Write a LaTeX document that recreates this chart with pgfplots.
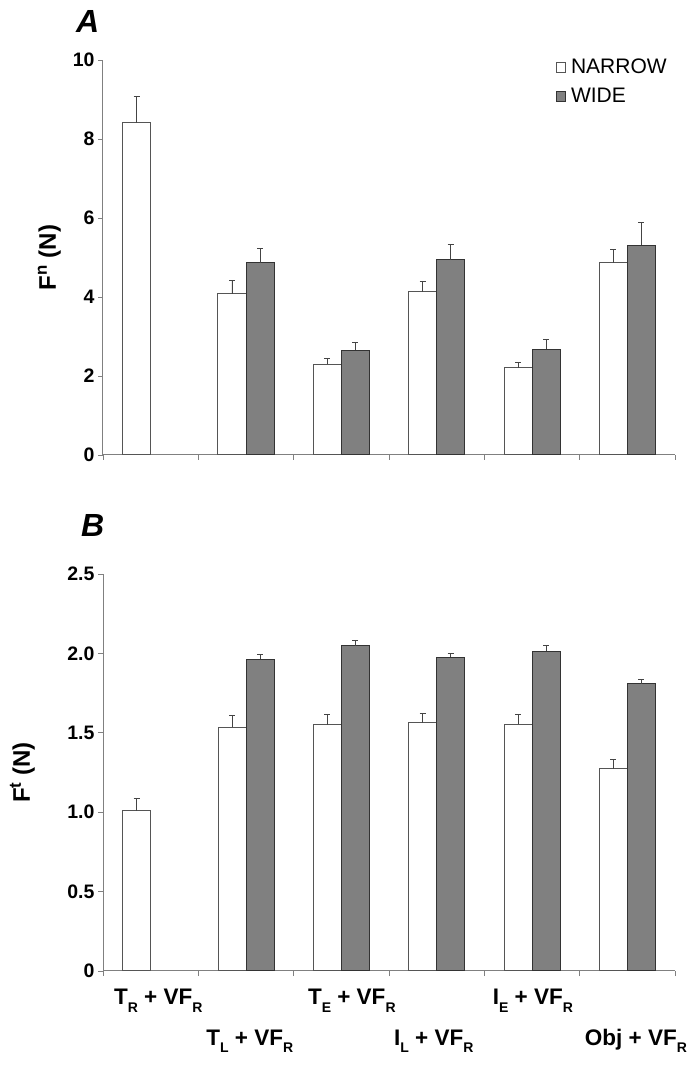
\documentclass[border=0pt]{standalone}
\usepackage{pgfplots}
\pgfplotsset{compat=1.18}
\usepackage{pgfplotstable}
\usepackage{fontspec}
\setmainfont{Liberation Sans}

\definecolor{axgray}{HTML}{808080}
\definecolor{widefill}{HTML}{808080}
\definecolor{edgedark}{HTML}{333333}
\definecolor{edgenarrow}{HTML}{555555}
\definecolor{errgray}{HTML}{444444}

% Panel A (F^n)
\pgfplotstableread{
x y e
1 8.41 0.66
2 4.08 0.33
3 2.30 0.15
4 4.13 0.26
5 2.21 0.14
6 4.87 0.34
}\narrowA
\pgfplotstableread{
x y e
2 4.87 0.36
3 2.65 0.19
4 4.94 0.38
5 2.68 0.25
6 5.31 0.58
}\wideA
% Panel B (F^t)
\pgfplotstableread{
x y e
1 1.010 0.076
2 1.535 0.072
3 1.552 0.063
4 1.563 0.056
5 1.554 0.061
6 1.275 0.059
}\narrowB
\pgfplotstableread{
x y e
2 1.964 0.032
3 2.048 0.033
4 1.977 0.025
5 2.012 0.036
6 1.808 0.027
}\wideB

\newcommand\sub[1]{\raisebox{-0.32em}{\fontsize{14}{14}\selectfont #1}}

\pgfplotsset{
  base/.style={
    scale only axis, width=572pt,
    xmin=0.5, xmax=6.5, ymin=0,
    axis x line*=bottom, axis y line*=left,
    axis line style={axgray, line width=1pt, -},
    xtick={0.5,1.5,2.5,3.5,4.5,5.5,6.5}, xticklabels={},
    tick align=outside, major tick length=5pt,
    tick style={axgray, line width=0.8pt},
    /pgf/number format/assume math mode=true,
    yticklabel style={font=\fontsize{19.5}{19.5}\selectfont\bfseries},
    ylabel style={font=\fontsize{24}{24}\selectfont\bfseries, anchor=center},
    ybar=0pt, bar width=28pt,
    clip=false,
  },
  narrowbar/.style={fill=white, draw=edgenarrow, line width=1pt,
    legend image code/.code={\draw[fill=white, draw=edgenarrow, line width=0.8pt] (0pt,-5pt) rectangle (9pt,5pt);},
    error bars/.cd, y dir=plus, y explicit,
    error bar style={errgray, line width=0.9pt},
    error mark options={errgray, rotate=90, mark size=3pt, line width=0.9pt}},
  widebar/.style={fill=widefill, draw=edgedark, line width=1pt,
    legend image code/.code={\draw[fill=widefill, draw=edgedark, line width=0.8pt] (0pt,-5pt) rectangle (9pt,5pt);},
    error bars/.cd, y dir=plus, y explicit,
    error bar style={errgray, line width=0.9pt},
    error mark options={errgray, rotate=90, mark size=3pt, line width=0.9pt}},
}

\begin{document}
\begin{tikzpicture}[x=1pt,y=1pt]
\useasboundingbox (0,0) rectangle (699,1068);

% ---------- Panel A ----------
\begin{axis}[base,
  at={(103pt,613pt)}, anchor=south west,
  height=395pt, ymax=10, ytick={0,2,4,6,8,10},
  ylabel={F\textsuperscript{n} (N)},
  ylabel style={at={(axis description cs:-0.094,0.5)}},
  legend style={draw=none, fill=none, at={(rel axis cs:0.792,1.008)}, anchor=north west,
    font=\fontsize{21}{21}\selectfont, row sep=9pt, inner sep=0pt,
    cells={anchor=west}},
  legend cell align=left,
]
\addplot[narrowbar] table[x=x, y=y, y error=e] {\narrowA};
\addplot[widebar] table[x=x, y=y, y error=e] {\wideA};
\legend{\hspace{3pt}NARROW, \hspace{3pt}WIDE}
\end{axis}

% ---------- Panel B ----------
\begin{axis}[base,
  at={(103pt,97pt)}, anchor=south west,
  height=397pt, ymax=2.5, ytick={0,0.5,1,1.5,2,2.5},
  yticklabels={0,0.5,1.0,1.5,2.0,2.5},
  ylabel={F\textsuperscript{t} (N)},
  ylabel style={at={(axis description cs:-0.141,0.5)}},
]
\addplot[narrowbar] table[x=x, y=y, y error=e] {\narrowB};
\addplot[widebar] table[x=x, y=y, y error=e] {\wideB};

\begin{scope}[every node/.style={anchor=base, inner sep=0pt, font=\fontsize{22.5}{22.5}\selectfont\bfseries}]
\node[yshift=-34pt] at (axis cs:1.08,0) {T\sub{R} + VF\sub{R}};
\node[yshift=-74pt] at (axis cs:2.04,0) {T\sub{L} + VF\sub{R}};
\node[yshift=-34pt] at (axis cs:3.11,0) {T\sub{E} + VF\sub{R}};
\node[yshift=-74pt] at (axis cs:3.97,0) {I\sub{L} + VF\sub{R}};
\node[yshift=-34pt] at (axis cs:5.01,0) {I\sub{E} + VF\sub{R}};
\node[yshift=-74pt] at (axis cs:6.09,0) {Obj + VF\sub{R}};
\end{scope}
\end{axis}

% panel letters
\node[anchor=base west, inner sep=0pt, font=\fontsize{32}{32}\selectfont\bfseries\itshape] at (76pt,1035pt) {A};
\node[anchor=base west, inner sep=0pt, font=\fontsize{32}{32}\selectfont\bfseries\itshape] at (81pt,531pt) {B};
\end{tikzpicture}
\end{document}
